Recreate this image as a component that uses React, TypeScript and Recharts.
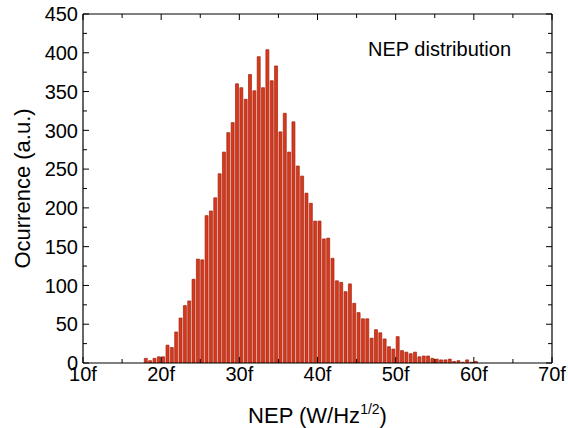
import { BarChart, Bar, XAxis, YAxis, Legend } from "recharts";

// histogram bins: 5/9 f wide, starting at 10f; first non-empty bin is #14
const BIN_START = 10;
const BIN_WIDTH = 5 / 9;
const FIRST_BIN = 14;

const COUNTS = [
  6, 3, 6, 8, 8, 23, 20, 40, 58, 74,
  80, 108, 134, 133, 190, 196, 213, 244, 272, 297,
  310, 360, 355, 340, 372, 351, 395, 355, 404, 364,
  383, 298, 322, 272, 311, 254, 241, 219, 206, 183,
  183, 160, 161, 135, 106, 104, 92, 102, 77, 65,
  57, 57, 32, 43, 39, 31, 21, 18, 34, 16,
  14, 12, 14, 8, 9, 9, 6, 5, 4, 4,
  5, 2, 3, 1, 4, 1, 2,
];

const X_MAJOR = [10, 20, 30, 40, 50, 60, 70];
const X_MINOR = [15, 25, 35, 45, 55, 65];
const Y_MAJOR = [0, 50, 100, 150, 200, 250, 300, 350, 400, 450];
const Y_MINOR = [25, 75, 125, 175, 225, 275, 325, 375, 425];

const X_TICKS = [...X_MAJOR, ...X_MINOR].sort((a, b) => a - b);
const Y_TICKS = [...Y_MAJOR, ...Y_MINOR].sort((a, b) => a - b);

const data = COUNTS.map((count, i) => ({
  nep: BIN_START + (FIRST_BIN + i + 0.5) * BIN_WIDTH,
  count,
}));

const FONT = "'Liberation Sans', Arial, sans-serif";
const AXIS = { stroke: "#000", strokeWidth: 1.2 };
const MAJOR = 6;
const MINOR = 4;
const GAP = 4;

// ticks point inward, minor ones shorter
function BottomTick({ x, y, payload }: any) {
  const major = X_MAJOR.includes(payload.value);
  const axisY = y - GAP;
  return (
    <g>
      <line x1={x} x2={x} y1={axisY} y2={axisY - (major ? MAJOR : MINOR)} stroke="#000" />
      {major && (
        <text x={x} y={y} dy="0.72em" textAnchor="middle" fontSize={20} fill="#000" fontFamily={FONT}>
          {`${payload.value}f`}
        </text>
      )}
    </g>
  );
}

function TopTick({ x, y, payload }: any) {
  const major = X_MAJOR.includes(payload.value);
  return <line x1={x} x2={x} y1={y} y2={y + (major ? MAJOR : MINOR)} stroke="#000" />;
}

function LeftTick({ x, y, payload }: any) {
  const major = Y_MAJOR.includes(payload.value);
  const axisX = x + GAP;
  return (
    <g>
      <line x1={axisX} x2={axisX + (major ? MAJOR : MINOR)} y1={y} y2={y} stroke="#000" />
      {major && (
        <text x={x - 1} y={y} dy="0.36em" textAnchor="end" fontSize={20} fill="#000" fontFamily={FONT}>
          {payload.value}
        </text>
      )}
    </g>
  );
}

function RightTick({ x, y, payload }: any) {
  const major = Y_MAJOR.includes(payload.value);
  return <line x1={x} x2={x - (major ? MAJOR : MINOR)} y1={y} y2={y} stroke="#000" />;
}

function XTitle({ viewBox }: any) {
  const { x, y, width } = viewBox;
  return (
    <text x={x + width / 2} y={y + 60} textAnchor="middle" fontSize={22} fill="#000" fontFamily={FONT}>
      NEP (W/Hz
      <tspan dy={-9} fontSize={14}>1/2</tspan>
      <tspan dy={9}>)</tspan>
    </text>
  );
}

function YTitle({ viewBox }: any) {
  const { x, y, height } = viewBox;
  const cx = x + 22;
  const cy = y + height / 2;
  return (
    <text
      x={cx}
      y={cy}
      transform={`rotate(-90 ${cx} ${cy})`}
      textAnchor="middle"
      dominantBaseline="central"
      fontSize={22}
      fill="#000"
      fontFamily={FONT}
    >
      Ocurrence (a.u.)
    </text>
  );
}

export default function App() {
  return (
    <div style={{ width: 568, height: 428, fontFamily: FONT }}>
      <style>{"body{margin:0}"}</style>
      <BarChart
        width={568}
        height={428}
        data={data}
        margin={{ top: 13, right: 15, bottom: 0, left: 0 }}
        barCategoryGap={0.5}
      >
        <XAxis xAxisId="x" dataKey="nep" type="number" domain={[10, 70]} allowDataOverflow
          ticks={X_TICKS} interval={0} tickSize={0} tickMargin={GAP} height={65}
          tick={<BottomTick />} tickLine={false} axisLine={AXIS}
          label={{ content: XTitle }} />
        <XAxis xAxisId="t" orientation="top" dataKey="nep" type="number" domain={[10, 70]} allowDataOverflow
          ticks={X_TICKS} interval={0} tickSize={0} tickMargin={0} height={1}
          tick={<TopTick />} tickLine={false} axisLine={AXIS} />

        <YAxis yAxisId="y" type="number" domain={[0, 450]} allowDataOverflow
          ticks={Y_TICKS} interval={0} tickSize={0} tickMargin={GAP} width={83}
          tick={<LeftTick />} tickLine={false} axisLine={AXIS}
          label={{ content: YTitle }} />
        <YAxis yAxisId="r" orientation="right" type="number" domain={[0, 450]} allowDataOverflow
          ticks={Y_TICKS} interval={0} tickSize={0} tickMargin={0} width={1}
          tick={<RightTick />} tickLine={false} axisLine={AXIS} />

        <Legend
          layout="vertical"
          align="center"
          verticalAlign="middle"
          wrapperStyle={{ top: 38, left: 368, width: "auto" }}
          content={({ payload }: any) => (
            <div style={{ fontSize: 20, color: "#000", fontFamily: FONT }}>
              {payload?.[0]?.value}
            </div>
          )}
        />

        <Bar
          xAxisId="x"
          yAxisId="y"
          dataKey="count"
          name="NEP distribution"
          fill="#d8391c"
          stroke="#a1220e"
          strokeWidth={0.7}
          isAnimationActive={false}
        />
      </BarChart>
    </div>
  );
}
